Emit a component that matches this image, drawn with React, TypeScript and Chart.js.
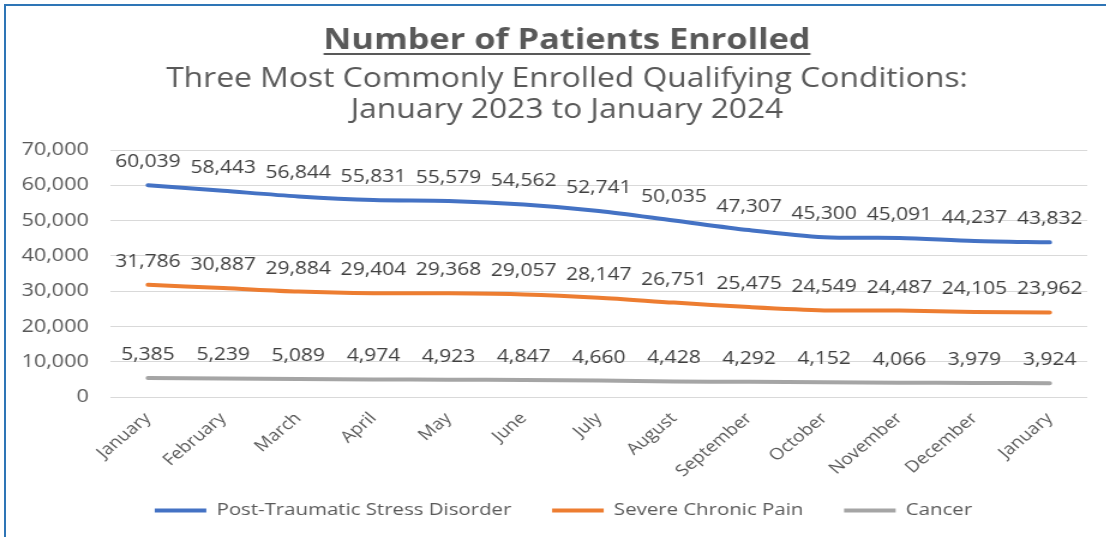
import React, { useEffect, useRef } from "react";
import { Chart, registerables } from "chart.js";

Chart.register(...registerables);

const categories = [
  "January", "February", "March", "April", "May", "June", "July",
  "August", "September", "October", "November", "December", "January",
];
const ptsdValues = [60039, 58443, 56844, 55831, 55579, 54562, 52741, 50035, 47307, 45300, 45091, 44237, 43832];
const painValues = [31786, 30887, 29884, 29404, 29368, 29057, 28147, 26751, 25475, 24549, 24487, 24105, 23962];
const cancerValues = [5385, 5239, 5089, 4974, 4923, 4847, 4660, 4428, 4292, 4152, 4066, 3979, 3924];
const seriesNames = ["Post-Traumatic Stress Disorder", "Severe Chronic Pain", "Cancer"];
const yTickValues = [0, 10000, 20000, 30000, 40000, 50000, 60000, 70000];
const titleText = "Number of Patients Enrolled";
const subtitleLines = ["Three Most Commonly Enrolled Qualifying Conditions:", "January 2023 to January 2024"];

const S = 1.2;
const W = Math.round(1106 / S);
const H = 537;
const FONT = "'Open Sans', 'Noto Sans', sans-serif";
const TEXT = "#595959";
const PAD_L = 33;

const fmt = (v: number) => v.toLocaleString("en-US");

const titlePlugin = {
  id: "titleText",
  afterDraw(chart: any) {
    const ctx = chart.ctx;
    const cx = 567 / S;
    ctx.save();
    ctx.fillStyle = TEXT;
    ctx.textAlign = "center";
    ctx.textBaseline = "alphabetic";
    ctx.font = `bold 28.6px ${FONT}`;
    ctx.fillText(titleText, cx, 49);
    const w = ctx.measureText(titleText).width;
    ctx.fillRect(cx - w / 2, 53, w, 2);
    ctx.font = `26.5px ${FONT}`;
    ctx.fillText(subtitleLines[0], cx, 87);
    ctx.fillText(subtitleLines[1], cx, 118);
    ctx.restore();
  },
};

const dataLabelPlugin = {
  id: "dataLabels",
  afterDatasetsDraw(chart: any) {
    const ctx = chart.ctx;
    ctx.save();
    ctx.font = `17.5px ${FONT}`;
    ctx.fillStyle = "#404040";
    ctx.textAlign = "center";
    ctx.textBaseline = "middle";
    chart.data.datasets.forEach((ds: any, i: number) => {
      const meta = chart.getDatasetMeta(i);
      meta.data.forEach((pt: any, j: number) => {
        ctx.fillText(fmt(ds.data[j]), pt.x, pt.y - 23);
      });
    });
    ctx.restore();
  },
};

export default function App() {
  const ref = useRef<HTMLCanvasElement>(null);
  useEffect(() => {
    const colors = ["#4472C4", "#ED7D31", "#A5A5A5"];
    const values = [ptsdValues, painValues, cancerValues];
    const chart = new Chart(ref.current!, {
      type: "line",
      data: {
        labels: categories,
        datasets: values.map((d, i) => ({
          label: seriesNames[i],
          data: d,
          borderColor: colors[i],
          backgroundColor: colors[i],
          borderWidth: 4,
          pointRadius: 0,
          tension: 0.3,
          borderCapStyle: "round" as const,
        })),
      },
      options: {
        responsive: false,
        animation: false,
        layout: { padding: { top: 150, left: PAD_L, right: 16, bottom: 8 } },
        font: { family: FONT },
        scales: {
          x: {
            offset: true,
            grid: { display: false },
            border: { display: false },
            ticks: {
              minRotation: 45,
              maxRotation: 45,
              autoSkip: false,
              color: TEXT,
              font: { family: FONT, size: 16 },
              padding: 4,
            },
            afterFit: (s: any) => {
              s.height = 71;
              s._computeLabelArea = () => undefined;
            },
          },
          y: {
            min: 0,
            max: 70000,
            afterBuildTicks: (s: any) => { s.ticks = yTickValues.map((v) => ({ value: v })); },
            grid: { color: "#D9D9D9", lineWidth: 1, drawTicks: false },
            border: { display: false },
            ticks: {
              color: TEXT,
              font: { family: FONT, size: 18 },
              padding: 18,
              callback: (v: any) => fmt(Number(v)),
            },
            afterFit: (s: any) => {
              s.width = 92 - PAD_L;
              s._computeLabelArea = () => undefined;
            },
          },
        },
        plugins: {
          title: { display: false },
          tooltip: { enabled: false },
          legend: {
            position: "bottom",
            labels: {
              color: TEXT,
              font: { family: FONT, size: 17 },
              boxWidth: 43,
              boxHeight: 4,
              padding: 34,
              generateLabels: (c: any) =>
                Chart.defaults.plugins.legend.labels.generateLabels(c).map((l: any) => ({ ...l, lineWidth: 0 })),
            },
          },
        },
      },
      plugins: [titlePlugin, dataLabelPlugin],
    });
    return () => chart.destroy();
  }, []);
  return (
    <div style={{ position: "fixed", left: 0, top: 0, width: 1106, height: 537, background: "#fff", overflow: "hidden" }}>
      <div style={{ position: "absolute", left: 4, top: 4, width: 1200, height: 700, borderTop: "2px solid #2E75B6", borderLeft: "2px solid #2E75B6" }} />
      <canvas
        ref={ref}
        width={W}
        height={H}
        style={{ position: "absolute", left: 0, top: 0, width: W, height: H, transform: `scaleX(${S})`, transformOrigin: "0 0" }}
      />
    </div>
  );
}
